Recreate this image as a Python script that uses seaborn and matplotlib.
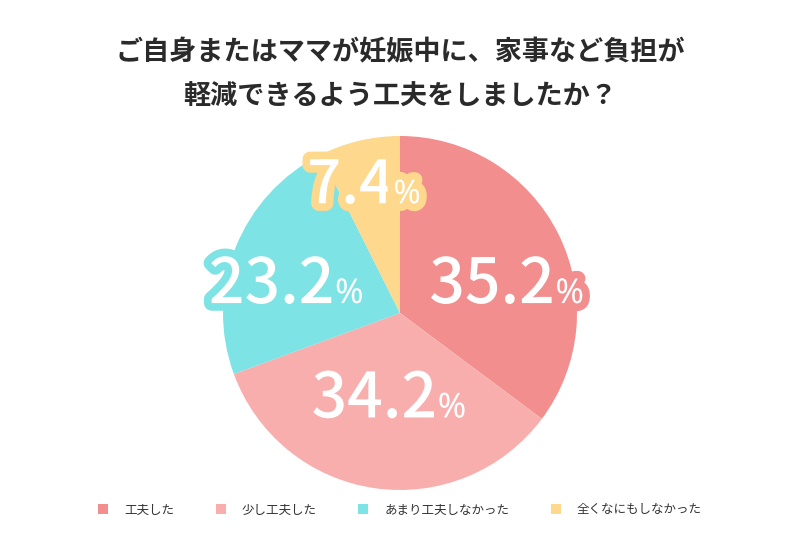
import matplotlib
matplotlib.use("Agg")
import matplotlib.pyplot as plt
import matplotlib.patheffects as pe
from matplotlib.patches import Patch
import seaborn as sns

categories = ["工夫した", "少し工夫した", "あまり工夫しなかった", "全くなにもしなかった"]
values = [35.2, 34.2, 23.2, 7.4]
colors = ["#F28E8E", "#F9AEAE", "#7DE3E4", "#FDD88D"]
title_lines = ["ご自身またはママが妊娠中に、家事など負担が", "軽減できるよう工夫をしましたか？"]

sns.set_theme(style="white")
plt.rcParams["font.family"] = ["Noto Sans CJK JP", "DejaVu Sans"]

fig = plt.figure(figsize=(8, 5.33), dpi=100)
fig.patch.set_facecolor("white")
ax = fig.add_axes([223/800, 43/533, 354/800, 354/533])

ax.pie(values, colors=sns.color_palette(colors), startangle=90, counterclock=False,
       radius=1, center=(0, 0), wedgeprops=dict(linewidth=0))
ax.set_xlim(-1, 1)
ax.set_ylim(-1, 1)
ax.set_aspect("equal")
ax.axis("off")

# right edge of the number, baseline (data coords)
label_pos = [(0.875, 0.056), (0.21, -0.59), (-0.37, 0.056), (-0.04, 0.62)]
num_sizes = [45, 45, 45, 43]
for v, c, (x, y), s in zip(values, colors, label_pos, num_sizes):
    txt = f"{v:.1f}"
    t1 = ax.text(x, y, txt, ha="right", va="baseline", fontsize=s, color="white",
                 fontweight="medium", family=["Noto Sans CJK JP", "DejaVu Sans"])
    t2 = ax.text(x + 0.003, y, "%", ha="left", va="baseline", fontsize=s * 0.55, color="white",
                 fontweight="bold", family=["Noto Sans", "DejaVu Sans"])
    for t in (t1, t2):
        t.set_path_effects([pe.withStroke(linewidth=11, foreground=c)])

fig.text(0.5, 1 - 52/533, title_lines[0], ha="center", va="center", fontsize=19.5,
         fontweight="bold", color="#2a2a2a")
fig.text(0.5, 1 - 97/533, title_lines[1], ha="center", va="center", fontsize=19.5,
         fontweight="bold", color="#2a2a2a")

handles = [Patch(facecolor=c, edgecolor="none") for c in colors]
fig.legend(handles, categories, loc="center", bbox_to_anchor=(0.5, 1 - 510/533),
           ncol=4, frameon=False, fontsize=9, handlelength=0.8, handleheight=0.8,
           handletextpad=1.3, columnspacing=3.3, labelcolor="#333333")

fig.savefig("out.png", dpi=100, facecolor="white")
